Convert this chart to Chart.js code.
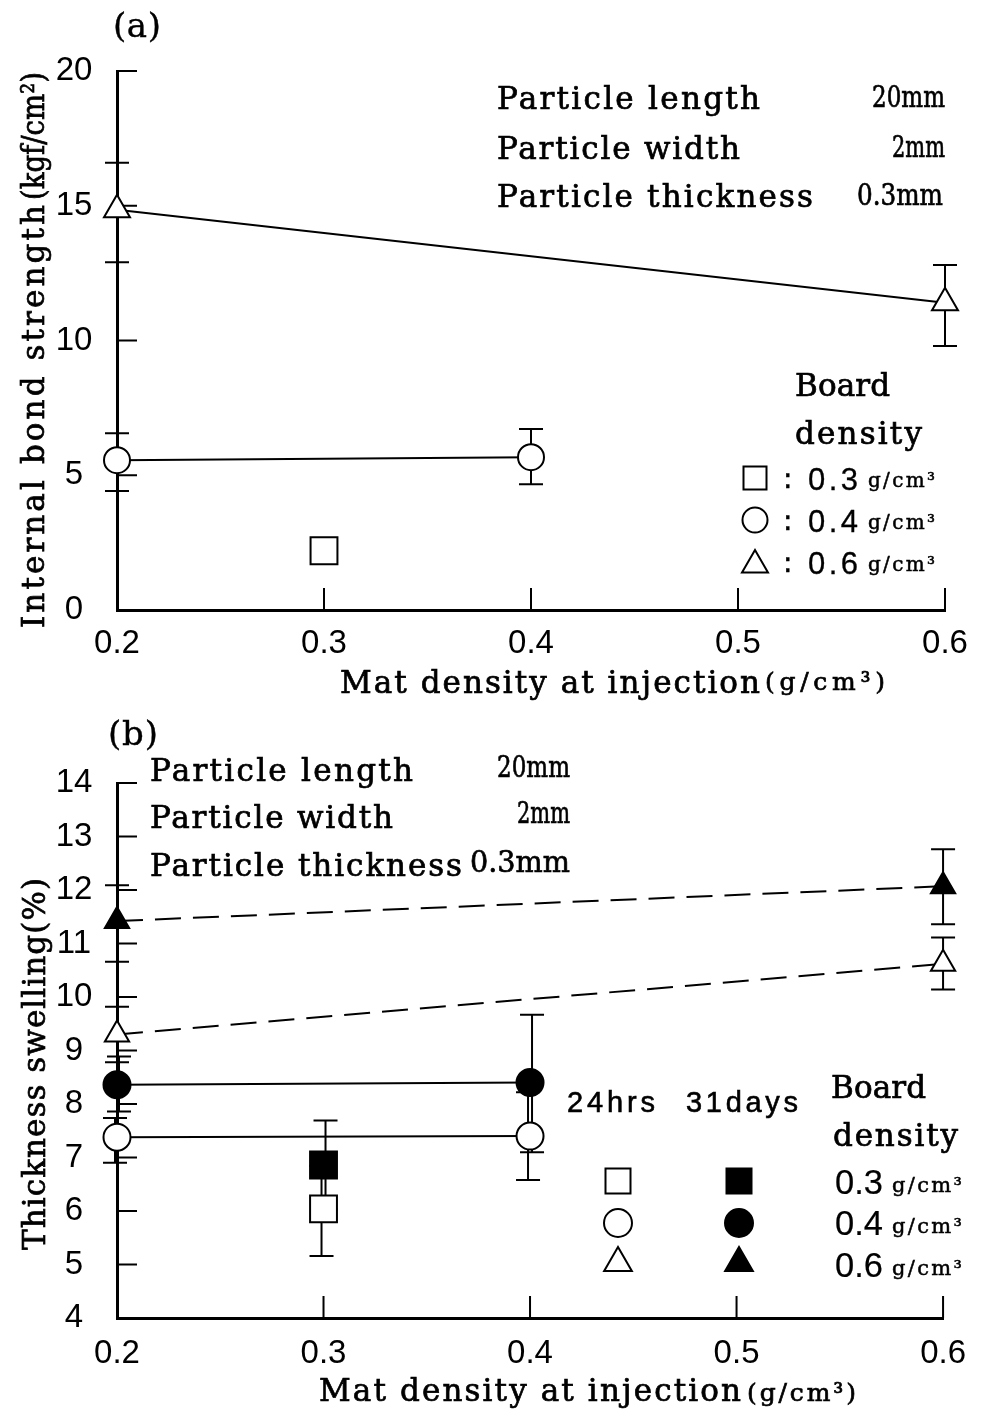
<!DOCTYPE html>
<html><head><meta charset="utf-8">
<script src="https://cdn.jsdelivr.net/npm/chart.js@4/dist/chart.umd.min.js"></script>
<style>
html,body{margin:0;padding:0;background:#fff;}
#wrap{position:relative;width:982px;height:1410px;overflow:hidden;background:#fff;}
canvas{position:absolute;left:0;}
#ca{top:0;} #cb{top:705px;}
</style></head><body>
<div id="wrap"><canvas id="ca" width="982" height="705"></canvas><canvas id="cb" width="982" height="705"></canvas></div>
<script>
// ---------- data ----------
const xTickValues = [0.2, 0.3, 0.4, 0.5, 0.6];
const aYTickValues = [0, 5, 10, 15, 20];
const bYTickValues = [4, 5, 6, 7, 8, 9, 10, 11, 12, 13, 14];

// Panel (a): internal bond strength (kgf/cm2), by board density
const a03X = [0.3];
const a03Y = [2.2];
const a04X = [0.2, 0.4];
const a04Y = [5.56, 5.67];
const a04Up = [1.0, 1.05];
const a04Down = [1.14, 1.0];
const a06X = [0.2, 0.6];
const a06Y = [14.85, 11.4];
const a06Up = [1.75, 1.4];
const a06Down = [1.95, 1.6];

// Panel (b): thickness swelling (%), 24hrs (h) and 31days (d)
const b03hX = [0.3], b03hY = [6.04], b03hUp = [0.8], b03hDown = [0.88];
const b03dX = [0.3], b03dY = [6.86], b03dUp = [0.83], b03dDown = [0.83];
const b04hX = [0.2, 0.4], b04hY = [7.38, 7.4], b04hUp = [0.36, 0.82], b04hDown = [0.48, 0.82];
const b04dX = [0.2, 0.4], b04dY = [8.36, 8.4], b04dUp = [0.53, 1.27], b04dDown = [0.5, 1.3];
const b06hX = [0.2, 0.6], b06hY = [9.3, 10.62], b06hUp = [0.52, 0.49], b06hDown = [0.52, 0.48];
const b06dX = [0.2, 0.6], b06dY = [11.42, 12.07], b06dUp = [0.67, 0.69], b06dDown = [0.76, 0.71];

const densityLabels = ['0.3', '0.4', '0.6'];

// ---------- fonts ----------
const NARROW = '"Liberation Sans", Arial, sans-serif';
const TS = 33;
const SERIF = '"DejaVu Serif", "Liberation Serif", serif';
const SANS = '"DejaVu Sans", "Liberation Sans", sans-serif';

function labelPad(){
  const c = document.createElement('canvas').getContext('2d');
  c.font = TS + 'px ' + NARROW;
  const w = c.measureText('20').width;
  return Math.max(4, 117 - 74 - w / 2);
}
const YPAD = labelPad();

// ---------- helpers ----------
function fitText(ctx, str, x, y, w, font, align, bold){
  ctx.save();
  ctx.font = font; ctx.fillStyle = '#000'; ctx.strokeStyle = '#000';
  ctx.lineWidth = bold === undefined ? 0.7 : bold;
  ctx.textBaseline = 'alphabetic'; ctx.textAlign = 'left';
  if ('letterSpacing' in ctx) ctx.letterSpacing = '0px';
  const m = ctx.measureText(str).width;
  const W = w || m;
  let sx = x;
  if (align === 'right') sx = x - W; else if (align === 'center') sx = x - W / 2;
  if (w && w < m) {
    ctx.translate(sx, y); ctx.scale(w / m, 1); sx = 0; y = 0;
  } else if (w && str.length > 1 && 'letterSpacing' in ctx) {
    ctx.letterSpacing = ((w - m) / (str.length - 1)) + 'px';
  }
  ctx.fillText(str, sx, y);
  if (ctx.lineWidth > 0) ctx.strokeText(str, sx, y);
  ctx.restore();
}
function rotText(ctx, str, baseX, startY, len, font){
  ctx.save(); ctx.translate(baseX, startY); ctx.rotate(-Math.PI / 2);
  fitText(ctx, str, 0, 0, len, font); ctx.restore();
}
function sym(ctx, type, x, y, r, filled){
  ctx.save(); ctx.beginPath();
  if (type === 'rect') ctx.rect(x - r, y - r, 2 * r, 2 * r);
  else if (type === 'circle') ctx.arc(x, y, r, 0, Math.PI * 2);
  else {
    ctx.moveTo(x, y - r);
    ctx.lineTo(x + r * Math.sin(2 * Math.PI / 3), y - r * Math.cos(2 * Math.PI / 3));
    ctx.lineTo(x + r * Math.sin(4 * Math.PI / 3), y - r * Math.cos(4 * Math.PI / 3));
    ctx.closePath();
  }
  ctx.fillStyle = filled ? '#000' : '#fff'; ctx.fill();
  ctx.lineWidth = 2; ctx.strokeStyle = '#000'; ctx.stroke(); ctx.restore();
}
function pts(xs, ys){ return xs.map((x, i) => ({x: x, y: ys[i]})); }
function mk(label, xs, ys, up, down, style, radius, filled, line, dash, off){
  return {
    label: label, data: pts(xs, ys), errUp: up, errDown: down, errOff: off || 0,
    pointStyle: style, pointRadius: radius, pointHoverRadius: radius,
    pointBackgroundColor: filled ? '#000' : '#fff', pointBorderColor: '#000', pointBorderWidth: 2,
    showLine: line, borderColor: '#000', borderWidth: 2, borderDash: dash || [], clip: false, tension: 0
  };
}

// ---------- plugins ----------
const errorBars = {
  id: 'errorBars',
  beforeDatasetsDraw(chart, args, opts){
    const ctx = chart.ctx, xs = chart.scales.x, ys = chart.scales.y;
    const cap = (opts && opts.cap) || 12;
    chart.data.datasets.forEach(d => {
      if (!d.errUp) return;
      d.data.forEach((p, i) => {
        const px = xs.getPixelForValue(p.x) + d.errOff;
        const top = ys.getPixelForValue(p.y + d.errUp[i]);
        const bot = ys.getPixelForValue(p.y - d.errDown[i]);
        ctx.save(); ctx.strokeStyle = '#000'; ctx.lineWidth = 2; ctx.beginPath();
        ctx.moveTo(px, top); ctx.lineTo(px, bot);
        ctx.moveTo(px - cap, top); ctx.lineTo(px + cap, top);
        ctx.moveTo(px - cap, bot); ctx.lineTo(px + cap, bot);
        ctx.stroke(); ctx.restore();
      });
    });
  }
};
const inwardTicks = {
  id: 'inwardTicks',
  beforeDatasetsDraw(chart, args, opts){
    const ctx = chart.ctx, xs = chart.scales.x, ys = chart.scales.y, a = chart.chartArea;
    ctx.save(); ctx.strokeStyle = '#000'; ctx.lineWidth = 2; ctx.beginPath();
    ys.ticks.forEach(t => {
      if (t.value === ys.min) return;
      const py = ys.getPixelForValue(t.value);
      ctx.moveTo(a.left, py); ctx.lineTo(a.left + opts.ylen, py);
    });
    xs.ticks.forEach(t => {
      if (t.value === xs.min) return;
      const px = xs.getPixelForValue(t.value);
      ctx.moveTo(px, a.bottom); ctx.lineTo(px, a.bottom - opts.xlen);
    });
    ctx.stroke(); ctx.restore();
  }
};
const S31 = '31px ' + SERIF;
const annotA = {
  id: 'annotA',
  afterDraw(chart){
    const c = chart.ctx;
    fitText(c, '(a)', 113, 37, 48, '34px ' + SERIF, 'left', 0.4);
    fitText(c, 'Particle length', 497, 109, 263, S31);
    fitText(c, '20mm', 945, 107, 73, '30px ' + SERIF, 'right');
    fitText(c, 'Particle width', 497, 159, 243, S31);
    fitText(c, '2mm', 945, 157, 53, '30px ' + SERIF, 'right');
    fitText(c, 'Particle thickness', 497, 207, 316, S31);
    fitText(c, '0.3mm', 943, 205, 86, '30px ' + SERIF, 'right');
    fitText(c, 'Board', 795, 396, 95, S31);
    fitText(c, 'density', 795, 444, 127, S31);
    const rows = [['rect', 478, 11.5], ['circle', 520, 12.5], ['triangle', 562, 15]];
    rows.forEach((r, i) => {
      sym(c, r[0], 755, r[1] + (r[0] === 'triangle' ? 3 : 0), r[2], false);
      fitText(c, ':', 783, r[1] + 10, 0, '28px ' + SANS, 'left', 0.5);
      fitText(c, densityLabels[i], 808, r[1] + 12, 50, '31px ' + NARROW, 'left', 0.3);
      fitText(c, 'g/cm³', 868, r[1] + 9, 67, '20px ' + SERIF, 'left', 0.5);
    });
    rotText(c, 'Internal bond strength', 44, 628, 423, S31);
    rotText(c, '(kgf/cm²)', 44, 200, 128, '31px ' + SERIF);
    fitText(c, 'Mat density at injection', 340, 693, 420, S31);
    fitText(c, '(g/cm³)', 765, 690, 120, '25px ' + SERIF);
  }
};
const annotB = {
  id: 'annotB',
  afterDraw(chart){
    const c = chart.ctx;
    c.save(); c.translate(0, -705);
    fitText(c, '(b)', 108, 745, 50, '34px ' + SERIF, 'left', 0.4);
    fitText(c, 'Particle length', 150, 781, 263, S31);
    fitText(c, '20mm', 570, 777, 73, '30px ' + SERIF, 'right');
    fitText(c, 'Particle width', 150, 828, 243, S31);
    fitText(c, '2mm', 570, 823, 53, '30px ' + SERIF, 'right');
    fitText(c, 'Particle thickness', 150, 876, 312, S31);
    fitText(c, '0.3mm', 470, 872, 100, '30px ' + SERIF);
    fitText(c, '24hrs', 567, 1112, 88, '29px ' + NARROW, 'left', 0.6);
    fitText(c, '31days', 686, 1112, 112, '29px ' + NARROW, 'left', 0.6);
    fitText(c, 'Board', 831, 1098, 95, S31);
    fitText(c, 'density', 833, 1146, 125, S31);
    const rows = [['rect', 1181, 12.5], ['circle', 1223, 14], ['triangle', 1259, 16]];
    rows.forEach((r, i) => {
      sym(c, r[0], 618, r[1] + (r[0] === 'triangle' ? 4 : 0), r[2], false);
      sym(c, r[0], 739, r[1] + (r[0] === 'triangle' ? 4 : 0), r[2], true);
      const by = [1194, 1235, 1277][i];
      fitText(c, densityLabels[i], 835, by, 48, '35px ' + NARROW, 'left', 0.2);
      fitText(c, 'g/cm³', 892, by - 2, 70, '21px ' + SERIF, 'left', 0.5);
    });
    rotText(c, 'Thickness swelling(%)', 45, 1250, 372, S31);
    fitText(c, 'Mat density at injection', 319, 1401, 422, S31);
    fitText(c, '(g/cm³)', 747, 1401, 109, '25px ' + SERIF);
    c.restore();
  }
};

// ---------- charts ----------
function scales(ymin, ymax, yticks, xh, xpad){
  return {
    x: {
      type: 'linear', min: 0.2, max: 0.6,
      afterBuildTicks: s => { s.ticks = xTickValues.map(v => ({value: v})); },
      afterFit: s => { s.height = xh; },
      grid: {display: false, drawTicks: false},
      border: {display: true, color: '#000', width: 3},
      ticks: {padding: xpad, color: '#000', font: {family: NARROW, size: TS}, callback: v => Number(v).toFixed(1), autoSkip: false, maxRotation: 0}
    },
    y: {
      type: 'linear', min: ymin, max: ymax,
      afterBuildTicks: s => { s.ticks = yticks.map(v => ({value: v})); },
      afterFit: s => { s.width = 117; },
      grid: {display: false, drawTicks: false},
      border: {display: true, color: '#000', width: 3},
      ticks: {padding: YPAD, crossAlign: 'center', color: '#000', font: {family: NARROW, size: TS}, callback: v => String(v), autoSkip: false}
    }
  };
}
const baseOpts = (padTop, xh, ymin, ymax, yticks, xpad) => ({
  responsive: false, animation: false, devicePixelRatio: 1, events: [],
  layout: {padding: {left: 0, right: 37, top: padTop, bottom: 0}},
  plugins: {legend: {display: false}, tooltip: {enabled: false},
            inwardTicks: {ylen: 20, xlen: 22}, errorBars: {cap: 12}},
  scales: scales(ymin, ymax, yticks, xh, xpad)
});

new Chart(document.getElementById('ca'), {
  type: 'scatter',
  data: {datasets: [
    mk('0.3 g/cm³', a03X, a03Y, null, null, 'rect', 19, false, false),
    mk('0.4 g/cm³', a04X, a04Y, a04Up, a04Down, 'circle', 13, false, true),
    mk('0.6 g/cm³', a06X, a06Y, a06Up, a06Down, 'triangle', 15, false, true)
  ]},
  options: baseOpts(71, 95, 0, 20, aYTickValues, 14),
  plugins: [inwardTicks, errorBars, annotA]
});

new Chart(document.getElementById('cb'), {
  type: 'scatter',
  data: {datasets: [
    mk('0.3 g/cm³ 24hrs', b03hX, b03hY, b03hUp, b03hDown, 'rect', 19, false, false, [], -2),
    mk('0.3 g/cm³ 31days', b03dX, b03dY, b03dUp, b03dDown, 'rect', 19, true, false, [], 2),
    mk('0.4 g/cm³ 24hrs', b04hX, b04hY, b04hUp, b04hDown, 'circle', 13.5, false, true, [], -2),
    mk('0.4 g/cm³ 31days', b04dX, b04dY, b04dUp, b04dDown, 'circle', 13.5, true, true, [], 2),
    mk('0.6 g/cm³ 24hrs', b06hX, b06hY, b06hUp, b06hDown, 'triangle', 14, false, true, [26, 12], 0),
    mk('0.6 g/cm³ 31days', b06dX, b06dY, b06dUp, b06dDown, 'triangle', 14, true, true, [26, 12], 0)
  ]},
  options: baseOpts(78, 92, 4, 14, bYTickValues, 16),
  plugins: [inwardTicks, errorBars, annotB]
});
</script>
</body></html>
